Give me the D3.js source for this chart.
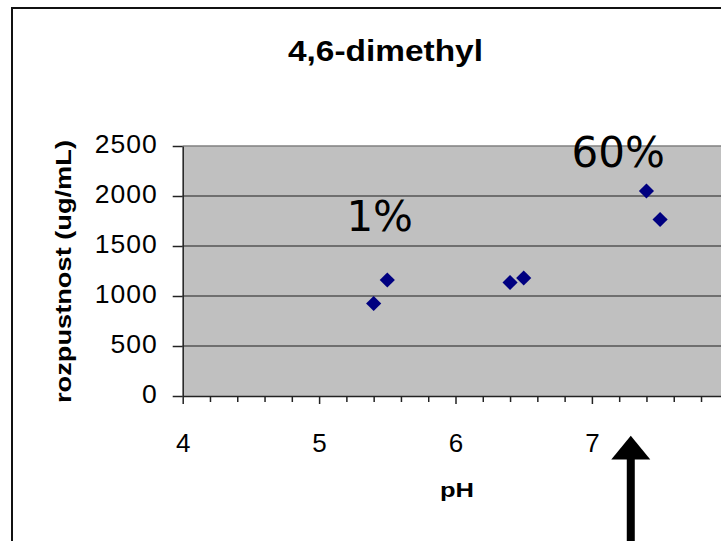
<!doctype html>
<html lang="cs">
<head>
    <meta charset="utf-8">
    <script src="https://d3js.org/d3.v7.min.js"></script>
    <style>
        body { margin:0; background:#fff; }
        svg { display:block; font-family:"Liberation Sans", Arial, sans-serif; }
    </style>
    <title>4,6-dimethyl</title>
</head>
<body>
<script>
    // data
    var phValues = [5.4, 5.5, 6.4, 6.5, 7.4, 7.5];
    var solubility = [925, 1160, 1135, 1180, 2050, 1765];
    var xTicks = [4, 5, 6, 7, 8];
    var yTicks = [0, 500, 1000, 1500, 2000, 2500];
    var noteLabels = ["1%", "60%"];

    var width = 721, height = 541;

    var svg = d3.select("body").append("svg")
        .attr("width", width)
        .attr("height", height);

    // scales (plot keeps going past the right edge of the picture)
    var x = d3.scaleLinear().domain([4, 9]).range([182.7, 182.7 + 5 * 136.4]);
    var y = d3.scaleLinear().domain([0, 2500]).range([396, 146]);

    // outer frame
    svg.append("path")
        .attr("d", "M12," + height + "V8H" + width)
        .attr("fill", "none")
        .attr("stroke", "#111")
        .attr("stroke-width", 2);

    // title
    svg.append("text")
        .attr("x", 385.5)
        .attr("y", 61)
        .attr("text-anchor", "middle")
        .attr("font-size", 29.5)
        .attr("font-weight", "bold")
        .attr("textLength", 195)
        .attr("lengthAdjust", "spacingAndGlyphs")
        .text("4,6-dimethyl");

    // plot area
    svg.append("rect")
        .attr("x", x(4))
        .attr("y", y(2500))
        .attr("width", width - x(4))
        .attr("height", y(0) - y(2500))
        .attr("fill", "#c0c0c0");

    // gridlines
    svg.append("g").selectAll("line")
        .data(yTicks.filter(function(d) { return d > 0; }))
        .enter().append("line")
        .attr("x1", x(4))
        .attr("x2", width)
        .attr("y1", function(d) { return y(d); })
        .attr("y2", function(d) { return y(d); })
        .attr("stroke", function(d) { return d === 2500 ? "#808080" : "#555"; })
        .attr("stroke-width", 1.5);

    // minor x ticks
    var minor = d3.range(4, 9.01, 0.2).filter(function(v) { return Math.abs(v - Math.round(v)) > 0.01; });
    svg.append("g")
        .attr("transform", "translate(0," + y(0) + ")")
        .call(d3.axisBottom(x).tickValues(minor).tickSize(6).tickSizeOuter(0).tickFormat(""))
        .call(function(g) {
            g.select(".domain").remove();
            g.selectAll("line").attr("stroke", "#222").attr("stroke-width", 1.5);
        });

    // x axis
    svg.append("g")
        .attr("transform", "translate(0," + y(0) + ")")
        .call(d3.axisBottom(x).tickValues(xTicks).tickSize(8).tickSizeOuter(0).tickFormat(d3.format("d")))
        .call(function(g) {
            g.select(".domain").attr("stroke", "#222").attr("stroke-width", 1.5);
            g.selectAll("line").attr("stroke", "#222").attr("stroke-width", 1.5);
            g.selectAll("text")
                .attr("dy", null)
                .attr("y", 55.6)
                .attr("font-size", 26)
                .attr("font-family", "Liberation Sans, Arial, sans-serif")
                .attr("fill", "#000");
        });

    // y axis
    svg.append("g")
        .attr("transform", "translate(" + x(4) + ",0)")
        .call(d3.axisLeft(y).tickValues(yTicks).tickSize(10).tickPadding(15).tickSizeOuter(0).tickFormat(d3.format("d")))
        .call(function(g) {
            g.select(".domain").attr("stroke", "#222").attr("stroke-width", 1.5);
            g.selectAll("line").attr("stroke", "#222").attr("stroke-width", 1.5);
            g.selectAll("text")
                .attr("dy", "6.7")
                .attr("font-size", 26.5)
                .attr("letter-spacing", 1)
                .attr("font-family", "Liberation Sans, Arial, sans-serif")
                .attr("fill", "#000");
        });

    // axis titles
    svg.append("text")
        .attr("x", 457)
        .attr("y", 496.7)
        .attr("text-anchor", "middle")
        .attr("font-size", 21)
        .attr("font-weight", "bold")
        .attr("textLength", 34)
        .attr("lengthAdjust", "spacingAndGlyphs")
        .text("pH");

    svg.append("text")
        .attr("transform", "translate(71,271.5) rotate(-90)")
        .attr("text-anchor", "middle")
        .attr("font-size", 22)
        .attr("font-weight", "bold")
        .attr("textLength", 263)
        .attr("lengthAdjust", "spacingAndGlyphs")
        .text("rozpustnost (ug/mL)");

    // points
    var diamond = d3.symbol().type(d3.symbolSquare).size(115);
    svg.append("g").selectAll("path")
        .data(phValues)
        .enter().append("path")
        .attr("d", diamond)
        .attr("transform", function(d, i) {
            return "translate(" + x(d) + "," + y(solubility[i]) + ") rotate(45)";
        })
        .attr("fill", "#000080");

    // percentage notes
    var noteAnchors = [[5.2, 1653], [6.85, 2293]];
    svg.append("g").selectAll("text")
        .data(noteLabels)
        .enter().append("text")
        .attr("x", function(d, i) { return x(noteAnchors[i][0]); })
        .attr("y", function(d, i) { return y(noteAnchors[i][1]); })
        .attr("font-family", "DejaVu Sans, Verdana, sans-serif")
        .attr("font-size", 42)
        .attr("fill", "#000")
        .text(function(d) { return d; });

    // arrow under the axis
    var ax = x(7.285);
    svg.append("rect")
        .attr("x", ax - 4)
        .attr("y", 458)
        .attr("width", 8)
        .attr("height", height - 458)
        .attr("fill", "#000");
    svg.append("path")
        .attr("d", "M" + ax + ",435.7L" + (ax + 19.5) + ",459.5L" + (ax - 19.5) + ",459.5Z")
        .attr("fill", "#000");
</script>
</body>
</html>
